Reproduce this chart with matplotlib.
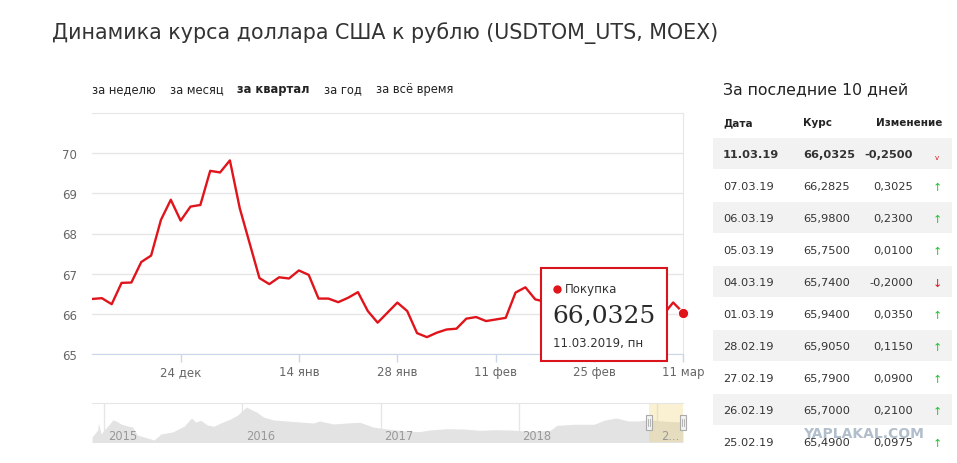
import numpy as np
import pandas as pd
import matplotlib
matplotlib.use("Agg")
import matplotlib.pyplot as plt
import matplotlib.dates as mdates
from matplotlib.patches import Rectangle
from matplotlib.transforms import blended_transform_factory

W, H = 957, 464

# ---- main series: USDTOM_UTS close, trading days ----
dates = ["2018-12-11", "2018-12-12", "2018-12-13", "2018-12-14", "2018-12-17", "2018-12-18",
         "2018-12-19", "2018-12-20", "2018-12-21", "2018-12-24", "2018-12-25", "2018-12-26",
         "2018-12-27", "2018-12-28", "2018-12-29", "2019-01-03", "2019-01-04", "2019-01-08",
         "2019-01-09", "2019-01-10", "2019-01-11", "2019-01-14", "2019-01-15", "2019-01-16",
         "2019-01-17", "2019-01-18", "2019-01-21", "2019-01-22", "2019-01-23", "2019-01-24",
         "2019-01-25", "2019-01-28", "2019-01-29", "2019-01-30", "2019-01-31", "2019-02-01",
         "2019-02-04", "2019-02-05", "2019-02-06", "2019-02-07", "2019-02-08", "2019-02-11",
         "2019-02-12", "2019-02-13", "2019-02-14", "2019-02-15", "2019-02-18", "2019-02-19",
         "2019-02-20", "2019-02-21", "2019-02-22", "2019-02-25", "2019-02-26", "2019-02-27",
         "2019-02-28", "2019-03-01", "2019-03-04", "2019-03-05", "2019-03-06", "2019-03-07",
         "2019-03-11"]
rate = [66.37, 66.39, 66.24, 66.77, 66.78, 67.29, 67.45, 68.34, 68.84, 68.32, 68.67, 68.71,
        69.56, 69.52, 69.82, 68.63, 67.76, 66.89, 66.74, 66.91, 66.88, 67.08, 66.97, 66.38,
        66.38, 66.29, 66.40, 66.54, 66.07, 65.78, 66.03, 66.28, 66.07, 65.52, 65.42, 65.53,
        65.61, 65.63, 65.88, 65.92, 65.82, 65.86, 65.90, 66.53, 66.66, 66.36, 66.30, 66.10,
        65.70, 65.60, 65.3925, 65.49, 65.70, 65.79, 65.905, 65.94, 65.74, 65.75, 65.98,
        66.2825, 66.0325]
tick_dates = ["2018-12-24", "2019-01-14", "2019-01-28", "2019-02-11", "2019-02-25", "2019-03-11"]
tick_labels = ["24 дек", "14 янв", "28 янв", "11 фев", "25 фев", "11 мар"]
yticks = [65, 66, 67, 68, 69, 70]

# ---- navigator: full history (coarse) ----
nav_dates = ["2014-11-30", "2014-12-15", "2014-12-17", "2014-12-24", "2015-01-01", "2015-01-11",
             "2015-01-24", "2015-02-02", "2015-02-15", "2015-03-04", "2015-03-17", "2015-03-30",
             "2015-04-17", "2015-05-13", "2015-05-31", "2015-07-01", "2015-08-01", "2015-08-20",
             "2015-08-31", "2015-09-13", "2015-10-01", "2015-10-18", "2015-11-05", "2015-12-01",
             "2015-12-19", "2016-01-12", "2016-01-27", "2016-02-08", "2016-02-26", "2016-03-24",
             "2016-04-28", "2016-06-02", "2016-07-07", "2016-07-24", "2016-08-29", "2016-10-03",
             "2016-11-07", "2016-12-12", "2017-01-18", "2017-03-08", "2017-04-13", "2017-05-10",
             "2017-06-24", "2017-08-07", "2017-09-20", "2017-11-03", "2017-12-10", "2018-01-31",
             "2018-03-25", "2018-04-12", "2018-05-27", "2018-07-19", "2018-08-14", "2018-09-15",
             "2018-10-17", "2018-11-13", "2018-12-10", "2019-01-25", "2019-03-11"]
nav_rate = [53, 60, 67, 56, 60, 64, 70, 69, 66, 64, 63, 55, 53, 50, 56, 58, 64, 72, 68, 69.7,
            65, 63.7, 67, 71, 74.7, 83, 80, 78, 73, 70, 69, 68, 67, 69, 66, 67, 67.7, 63, 61,
            59, 58.3, 60, 61.3, 61, 59.7, 60.3, 60, 58.7, 59.7, 64.7, 65.7, 65.7, 69.7, 72, 69,
            69, 70.3, 68.7, 68]
nav_years = ["2015-01-01", "2016-01-01", "2017-01-01", "2018-01-01", "2019-01-01"]
nav_year_labels = ["2015", "2016", "2017", "2018", "2..."]

periods = ["за неделю", "за месяц", "за квартал", "за год", "за всё время"]
active_period = "за квартал"
weekdays = ["пн", "вт", "ср", "чт", "пт", "сб", "вс"]

title = "Динамика курса доллара США к рублю (USDTOM_UTS, MOEX)"
RED = "#e0141b"
GRID = "#e6e6e6"


def px_rect(l, t, r, b):
    return [l / W, 1 - b / H, (r - l) / W, (b - t) / H]


def ru(v):
    return f"{v:.4f}".replace(".", ",")


plt.rcParams["font.family"] = ["DejaVu Sans"]
fig = plt.figure(figsize=(W / 100, H / 100), dpi=100)
fig.patch.set_facecolor("white")

# ---- main chart ----
ax = fig.add_axes(px_rect(92, 114, 683, 355))
x = np.arange(len(rate))
ax.plot(x, rate, color=RED, lw=1.7, solid_joinstyle="round", zorder=3)
ax.plot(x[-1], rate[-1], "o", ms=7.5, color=RED, mec="white", mew=0.8, clip_on=False, zorder=4)
ax.set_xlim(0, len(rate) - 1)
ax.set_ylim(65, 71)
ax.set_yticks(yticks)
ax.yaxis.grid(True, color=GRID, lw=1)
ax.tick_params(axis="y", length=0, pad=11, labelsize=8.5, labelcolor="#666")
ax.set_xticks([dates.index(d) for d in tick_dates])
ax.set_xticklabels(tick_labels)
ax.tick_params(axis="x", length=6, width=1, color="#ccd6eb", pad=2, labelsize=8.5, labelcolor="#666")
ax.spines["left"].set_visible(False)
ax.spines["top"].set_color(GRID)
ax.spines["right"].set_color(GRID)
ax.spines["bottom"].set_color("#ccd6eb")
ax.set_axisbelow(True)

# ---- navigator ----
nav = fig.add_axes(px_rect(92, 404, 683, 443))
nd = pd.to_datetime(nav_dates)
nav.fill_between(nd, nav_rate, 40, color="#e3e3e3", lw=0)
nav.set_xlim(nd[0], nd[-1])
nav.set_ylim(48, 87)
nav.set_xticks([])
nav.set_yticks([])
for s in ["left", "right", "bottom"]:
    nav.spines[s].set_visible(False)
nav.spines["top"].set_color(GRID)
tb = blended_transform_factory(nav.transData, nav.transAxes)
for yd, lab in zip(pd.to_datetime(nav_years), nav_year_labels):
    nav.axvline(yd, color=GRID, lw=1, zorder=0)
    nav.text(mdates.date2num(yd) + 10, 0.17, lab, transform=tb, fontsize=8.3, color="#999",
             va="center", ha="left", zorder=3)
sel0, sel1 = pd.Timestamp(dates[0]), pd.Timestamp(dates[-1])
nav.axvspan(sel0, sel1, color=(0.94, 0.82, 0.43), alpha=0.3, lw=0, zorder=2)
for hd in [sel0, sel1]:
    hx = mdates.date2num(hd)
    nav.add_patch(Rectangle((hx - 9, 0.32), 18, 0.36, transform=tb, facecolor="#f2f2f2",
                            edgecolor="#aaa", lw=0.8, clip_on=False, zorder=5))
    for dx in (-2, 2):
        nav.plot([hx + dx, hx + dx], [0.41, 0.59], transform=tb, color="#aaa", lw=0.6,
                 clip_on=False, zorder=6)

# ---- overlay: texts, tooltip, table ----
ov = fig.add_axes([0, 0, 1, 1])
ov.set_xlim(0, W)
ov.set_ylim(H, 0)
ov.axis("off")
ov.set_zorder(10)

ov.text(52, 33, title, fontsize=14.9, color="#333", va="center", ha="left")

fig.canvas.draw()
rend = fig.canvas.get_renderer()
px = 92
for p in periods:
    t = ov.text(px, 90, p, fontsize=8.3, color="#222", va="center", ha="left",
                weight="bold" if p == active_period else "normal")
    bb = t.get_window_extent(rend)
    px += bb.width + 14

# tooltip
ov.add_patch(Rectangle((541, 269), 126, 93, facecolor="white", edgecolor="#d9141c", lw=1.5, zorder=5))
ov.plot(557, 290, "o", color=RED, ms=5, zorder=6)
ov.text(565, 290, "Покупка", fontsize=8.5, color="#333", va="center", zorder=6)
ov.text(552, 316, ru(rate[-1]), fontsize=18, family="DejaVu Serif", color="#2a2a2a", va="center", zorder=6)
last = pd.Timestamp(dates[-1])
ov.text(553, 344, f"{last:%d.%m.%Y}, {weekdays[last.weekday()]}", fontsize=8.5, color="#333",
        va="center", zorder=6)

# table of last 10 days
ov.text(723, 90, "За последние 10 дней", fontsize=11.3, color="#222", va="center")
for hx, lab in [(723, "Дата"), (803, "Курс"), (876, "Изменение")]:
    ov.text(hx, 123, lab, fontsize=7.5, weight="bold", color="#222", va="center")
tbl_dates = [pd.Timestamp(d).strftime("%d.%m.%y") for d in dates[-10:]][::-1]
tbl_rate = rate[-10:][::-1]
tbl_change = list(np.diff(rate[-11:]))[::-1]
for i, (d, r, c) in enumerate(zip(tbl_dates, tbl_rate, tbl_change)):
    top = 139 + 32 * i
    if i % 2 == 0:
        ov.add_patch(Rectangle((713, top), 239, 31, facecolor="#f2f2f2", lw=0, zorder=1))
    yc = top + 16
    wt = "bold" if i == 0 else "normal"
    ov.text(723, yc, d, fontsize=8.2, color="#333", va="center", weight=wt, zorder=2)
    ov.text(803, yc, ru(r), fontsize=8.2, color="#333", va="center", weight=wt, zorder=2)
    ov.text(913, yc, ru(c), fontsize=8.2, color="#333", va="center", ha="right", weight=wt, zorder=2)
    if i == 0:
        ov.text(937, yc + 3, "v", fontsize=5, color="#d9141c", va="center", ha="center", zorder=2)
    elif c >= 0:
        ov.text(937, yc + 1, "↑", fontsize=8, color="#22c32e", va="center", ha="center", zorder=2)
    else:
        ov.text(937, yc + 1, "↓", fontsize=8, color="#d9141c", va="center", ha="center", zorder=2)

# site watermark seen over the bottom table row
ov.text(864, 434, "YAPLAKAL.COM", fontsize=10, weight="bold", color="#a9b7c6", alpha=0.9,
        va="center", ha="center", zorder=8)

fig.savefig("out.png", dpi=100)
